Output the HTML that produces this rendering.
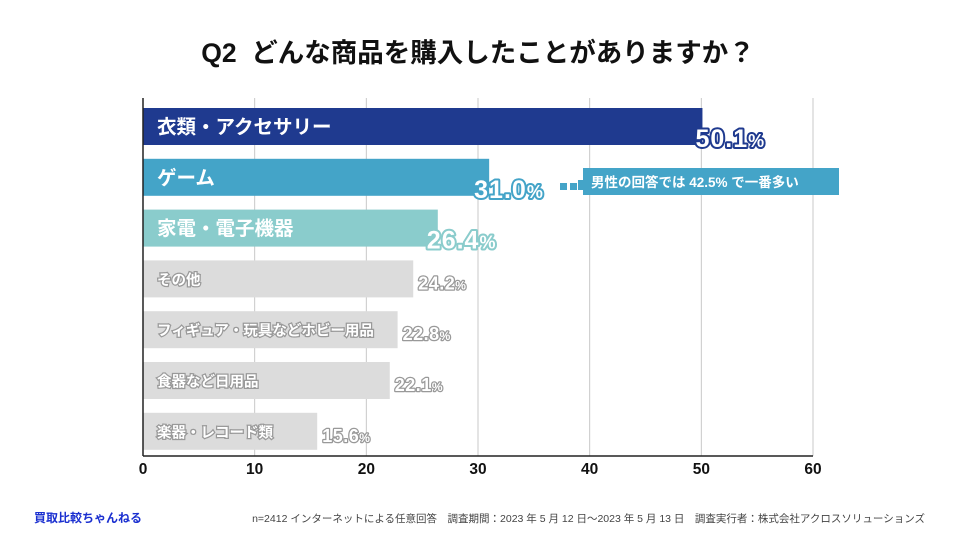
<!DOCTYPE html>
<html><head><meta charset="utf-8"><style>
body{margin:0;background:#fff;width:961px;height:541px;overflow:hidden;font-family:"Liberation Sans","Noto Sans CJK JP",sans-serif}
</style></head><body>
<svg width="961" height="541" viewBox="0 0 961 541" xmlns="http://www.w3.org/2000/svg">
<text x="478" y="62" text-anchor="middle" font-size="26.5" font-weight="bold" fill="#111" font-family="Liberation Sans,Noto Sans CJK JP,sans-serif" xml:space="preserve">Q2  どんな商品を購入したことがありますか？</text>
<g id="grid"></g>
<g id="bars"></g>
<g id="axis"></g>
<g>
<rect x="560" y="183" width="7" height="7" fill="#44a4c8"/><rect x="570" y="183" width="7" height="7" fill="#44a4c8"/><rect x="578" y="180" width="6" height="10" fill="#44a4c8"/>
<rect x="583" y="168" width="256" height="27" fill="#44a4c8"/>
<text x="591" y="187" font-size="13.5" font-weight="bold" fill="#fff" font-family="Liberation Sans,Noto Sans CJK JP,sans-serif">男性の回答では 42.5% で一番多い</text>
</g>
<text x="34" y="522" font-size="12" font-weight="bold" fill="#1a2fd0" font-family="Liberation Sans,Noto Sans CJK JP,sans-serif">買取比較ちゃんねる</text>
<text x="925" y="522" text-anchor="end" font-size="10.5" fill="#444" font-family="Liberation Sans,Noto Sans CJK JP,sans-serif">n=2412 インターネットによる任意回答　調査期間：2023 年 5 月 12 日〜2023 年 5 月 13 日　調査実行者：株式会社アクロスソリューションズ</text>
</svg>
<script>
const categories=["衣類・アクセサリー","ゲーム","家電・電子機器","その他","フィギュア・玩具などホビー用品","食器など日用品","楽器・レコード類"];
const values=[50.1,31.0,26.4,24.2,22.8,22.1,15.6];
const colors=["#1f3a8f","#44a4c8","#8acccc","#dcdcdc","#dcdcdc","#dcdcdc","#dcdcdc"];
const ticks=[0,10,20,30,40,50,60];
const NS="http://www.w3.org/2000/svg";
const x0=143,x1=813,plotTop=98,plotBottom=456,maxV=60;
const xs=v=>x0+(v/maxV)*(x1-x0);
const yb=i=>108+i*50.8;
const F="Liberation Sans,Noto Sans CJK JP,sans-serif";
function mk(t,a,p){const e=document.createElementNS(NS,t);for(const k in a)e.setAttribute(k,a[k]);p.appendChild(e);return e;}
const grid=document.getElementById('grid'),bars=document.getElementById('bars'),axis=document.getElementById('axis');
ticks.forEach(t=>{if(t>0){const l=mk('line',{x1:xs(t),x2:xs(t),y1:plotTop,y2:plotBottom,stroke:'#c8c8c8','stroke-width':1},grid);

}
const tx=mk('text',{x:xs(t),y:plotBottom+18,'text-anchor':'middle','font-size':15.5,'font-weight':'bold',fill:'#111','font-family':F},axis);tx.textContent=t;

});
const al=mk('line',{x1:x0,x2:x0,y1:plotTop,y2:plotBottom,stroke:'#222','stroke-width':1.5},axis);


const bl=mk('line',{x1:x0,x2:x1,y1:plotBottom,y2:plotBottom,stroke:'#222','stroke-width':1.5},axis);


categories.forEach((c,i)=>{const y=yb(i),h=37,big=i<3;
const r=mk('rect',{x:x0,y:y,width:xs(values[i])-x0,height:h,fill:colors[i]},bars);


const lab=mk('text',{x:x0+14,y:y+h/2+(big?7:6),'font-size':big?19.5:14.5,'font-weight':'bold',fill:'#fff','font-family':F},bars);
if(!big){lab.setAttribute('stroke','#999');lab.setAttribute('stroke-width','2.5');lab.setAttribute('paint-order','stroke');}
lab.textContent=c;


const ex=xs(values[i]);
const vt=mk('text',{x:big?ex-7-(i==1?8:0)-(i==2?4:0):ex+5,y:y+h-(big?-2:8),'font-size':big?25:18,'letter-spacing':big?1:0.5,'font-weight':'bold',fill:'#fff',stroke:big?colors[i]:'#999','stroke-width':big?4:2.5,'paint-order':'stroke','stroke-linejoin':'round','font-family':F},bars);
vt.innerHTML=values[i].toFixed(1)+'<tspan font-size="'+(big?18:12)+'">%</tspan>';

});
</script>
</body></html>
